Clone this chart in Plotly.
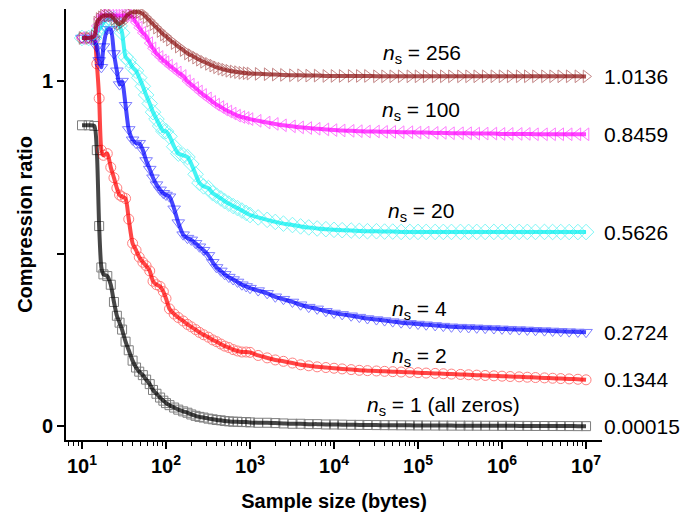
import plotly.graph_objects as go

# Sample sizes (bytes)
X = [10, 12, 14, 15, 16, 17, 18, 20, 22, 24,
     26, 28, 30, 33, 36, 40, 44, 48, 53, 58,
     64, 70, 77, 85, 93, 100, 110, 125, 140, 160,
     180, 200, 225, 250, 280, 320, 360, 400, 450, 500,
     560, 630, 710, 800, 900, 1000,
     1250, 1600, 2000, 2500, 3200, 4000, 5000, 6300, 8000, 10000,
     12500, 16000, 20000, 25000, 32000, 40000, 50000, 63000, 80000, 100000,
     125000, 160000, 200000, 250000, 320000, 400000, 500000, 630000, 800000, 1000000,
     1250000, 1600000, 2000000, 2500000, 3200000, 4000000, 5000000, 6300000, 8000000, 10000000]

ns1 = [.872, .872, .870, .80, .58, .46, .44, .435, .41, .36,
       .32, .30, .28, .245, .22, .19, .17, .158, .148, .135,
       .122, .105, .094, .083, .074, .067, .061, .054, .048, .043,
       .039, .034, .030, .027, .025, .022, .020, .018, .017, .015,
       .014, .013, .013, .012, .012, .011,
       .010, .010, .009, .008, .007, .007, .006, .006, .005, .005,
       .0045, .004, .0038, .0035, .0032, .003, .0028, .0026, .0024, .0022,
       .002, .0019, .0018, .0017, .0016, .0015, .0014, .0013, .0012, .0011,
       .001, .0009, .0008, .0007, .0006, .0005, .0004, .0003, .0002, .00015]

ns2 = [1.125, 1.125, 1.12, 1.05, .95, .80, .785, .79, .75, .72,
       .69, .67, .665, .66, .60, .53, .51, .49, .475, .465,
       .45, .42, .41, .405, .39, .37, .34, .325, .315, .305,
       .295, .288, .28, .272, .265, .258, .25, .245, .238, .232,
       .228, .222, .218, .215, .215, .214,
       .205, .198, .192, .188, .183, .178, .175, .172, .170, .168,
       .166, .164, .162, .161, .160, .159, .158, .157, .156, .155,
       .154, .153, .152, .151, .150, .149, .148, .147, .146, .145,
       .144, .143, .142, .141, .140, .139, .138, .137, .136, .1344]

ns4 = [1.125, 1.125, 1.12, 1.10, 1.06, 1.04, 1.10, 1.15, 1.15, 1.08,
       1.03, .99, 1.0, .93, .86, .83, .82, .82, .80, .77,
       .745, .72, .70, .685, .675, .67, .665, .63, .59, .555,
       .545, .54, .53, .52, .51, .495, .475, .46, .45, .44,
       .432, .425, .418, .41, .405, .40,
       .393, .385, .375, .368, .36, .352, .345, .34, .333, .328,
       .324, .32, .316, .312, .309, .306, .303, .30, .298, .296,
       .294, .292, .29, .288, .287, .286, .285, .284, .283, .282,
       .281, .28, .279, .278, .277, .276, .275, .274, .273, .2724]

ns20 = [1.125, 1.125, 1.125, 1.14, 1.15, 1.16, 1.17, 1.18, 1.18, 1.18,
        1.17, 1.16, 1.14, 1.07, 1.06, 1.04, 1.03, 1.01, .985, .96,
        .935, .91, .89, .87, .855, .855, .84, .81, .79, .785,
        .78, .76, .73, .705, .695, .69, .675, .668, .66, .652,
        .645, .638, .632, .625, .618, .612,
        .605, .598, .592, .587, .583, .579, .576, .573, .571, .569,
        .568, .567, .566, .565, .565, .564, .564, .563, .563, .563,
        .563, .563, .563, .563, .563, .563, .563, .563, .563, .563,
        .563, .563, .563, .563, .563, .5628, .5627, .5627, .5626, .5626]

ns100 = [1.125, 1.125, 1.13, 1.16, 1.18, 1.19, 1.19, 1.19, 1.19, 1.19,
         1.19, 1.19, 1.19, 1.19, 1.19, 1.185, 1.17, 1.155, 1.14, 1.13,
         1.11, 1.095, 1.08, 1.07, 1.06, 1.055, 1.045, 1.035, 1.025, 1.015,
         1.0, .99, .98, .97, .96, .95, .94, .932, .925, .918,
         .912, .906, .90, .896, .893, .89,
         .885, .88, .876, .872, .869, .866, .864, .862, .86, .858,
         .857, .856, .855, .854, .854, .853, .853, .852, .852, .851,
         .851, .850, .850, .849, .849, .849, .848, .848, .848, .847,
         .847, .847, .847, .846, .846, .846, .846, .846, .846, .8459]

ns256 = [1.125, 1.125, 1.13, 1.17, 1.18, 1.185, 1.19, 1.19, 1.19, 1.18,
         1.17, 1.165, 1.17, 1.185, 1.195, 1.20, 1.20, 1.20, 1.195, 1.185,
         1.175, 1.165, 1.155, 1.145, 1.135, 1.13, 1.12, 1.11, 1.10, 1.09,
         1.08, 1.075, 1.068, 1.062, 1.056, 1.05, 1.045, 1.04, 1.036, 1.033,
         1.03, 1.028, 1.026, 1.024, 1.023, 1.022,
         1.021, 1.02, 1.019, 1.018, 1.017, 1.017, 1.016, 1.016, 1.015, 1.015,
         1.015, 1.015, 1.015, 1.015, 1.014, 1.014, 1.014, 1.014, 1.014, 1.014,
         1.014, 1.014, 1.014, 1.014, 1.014, 1.014, 1.014, 1.014, 1.014, 1.014,
         1.014, 1.014, 1.014, 1.014, 1.014, 1.014, 1.014, 1.014, 1.014, 1.0136]

series = [
    ("n_s = 1", ns1, "#000000", "square-open", 9),
    ("n_s = 2", ns2, "#FF0000", "circle-open", 10),
    ("n_s = 4", ns4, "#0000FF", "triangle-down-open", 11),
    ("n_s = 20", ns20, "#00F0F0", "diamond-open", 12),
    ("n_s = 100", ns100, "#FF00FF", "triangle-left-open", 11),
    ("n_s = 256", ns256, "#8B1010", "triangle-right-open", 11),
]

labels = ["<i>n</i><sub>s</sub> = 1 (all zeros)", "<i>n</i><sub>s</sub> = 2",
          "<i>n</i><sub>s</sub> = 4", "<i>n</i><sub>s</sub> = 20",
          "<i>n</i><sub>s</sub> = 100", "<i>n</i><sub>s</sub> = 256"]
label_pos = [(0.705, 0.058), (0.66, 0.20), (0.66, 0.336), (0.662, 0.62),
             (0.662, 0.913), (0.664, 1.078)]
end_text = ["0.00015", "0.1344", "0.2724", "0.5626", "0.8459", "1.0136"]
end_y = [0.0, 0.1344, 0.2724, 0.5626, 0.8459, 1.0136]

fig = go.Figure()
for name, ys, col, sym, sz in series:
    fig.add_trace(go.Scatter(x=X, y=ys, mode="markers", name=name,
                             marker=dict(symbol=sym, size=sz, color=col,
                                         line=dict(width=1, color=col)),
                             opacity=0.5, showlegend=False))
    fig.add_trace(go.Scatter(x=X, y=ys, mode="lines", name=name,
                             line=dict(color=col, width=4, shape="spline", smoothing=0.6),
                             opacity=0.72, showlegend=False))

FONT = "Liberation Sans, Arial, sans-serif"
for t, (px, py) in zip(labels, label_pos):
    fig.add_annotation(x=px, y=py, xref="paper", yref="y", text=t, showarrow=False,
                       xanchor="center", yanchor="middle",
                       font=dict(family=FONT, size=21, color="black"))
for t, vy in zip(end_text, end_y):
    fig.add_annotation(x=1.0, y=vy, xref="paper", yref="y", text=t, showarrow=False,
                       xanchor="left", yanchor="middle", xshift=0,
                       font=dict(family=FONT, size=21, color="black"))

minor_vals = [m * 10 ** k for k in range(0, 7) for m in range(2, 10)]
fig.update_xaxes(type="log", range=[0.8095, 7.19], automargin=False,
                 tickvals=[10 ** k for k in range(1, 8)],
                 ticktext=[f"10<sup>{k}</sup>" for k in range(1, 8)],
                 ticks="outside", ticklen=7, tickwidth=1.5, tickcolor="black",
                 minor=dict(tickvals=minor_vals, ticks="outside", ticklen=4,
                            tickwidth=1, tickcolor="black"),
                 showline=True, linecolor="black", linewidth=2,
                 showgrid=False, zeroline=False,
                 tickfont=dict(family=FONT, size=20, color="black", weight="bold"),
                 title=dict(text="Sample size (bytes)", standoff=18,
                            font=dict(family=FONT, size=20, color="black", weight="bold")))
fig.update_yaxes(range=[-0.04, 1.209], automargin=False,
                 tickvals=[0, 0.5, 1], ticktext=["0", "", "1"],
                 ticks="outside", ticklen=7, tickwidth=1.5, tickcolor="black",
                 showline=True, linecolor="black", linewidth=2,
                 showgrid=False, zeroline=False,
                 tickfont=dict(family=FONT, size=20, color="black", weight="bold"),
                 title=dict(text="Compression ratio", standoff=4,
                            font=dict(family=FONT, size=20, color="black", weight="bold")))
fig.update_layout(width=699, height=514, margin=dict(l=66, r=97, t=9, b=74),
                  plot_bgcolor="white", paper_bgcolor="white")
fig.write_html("out.html")
